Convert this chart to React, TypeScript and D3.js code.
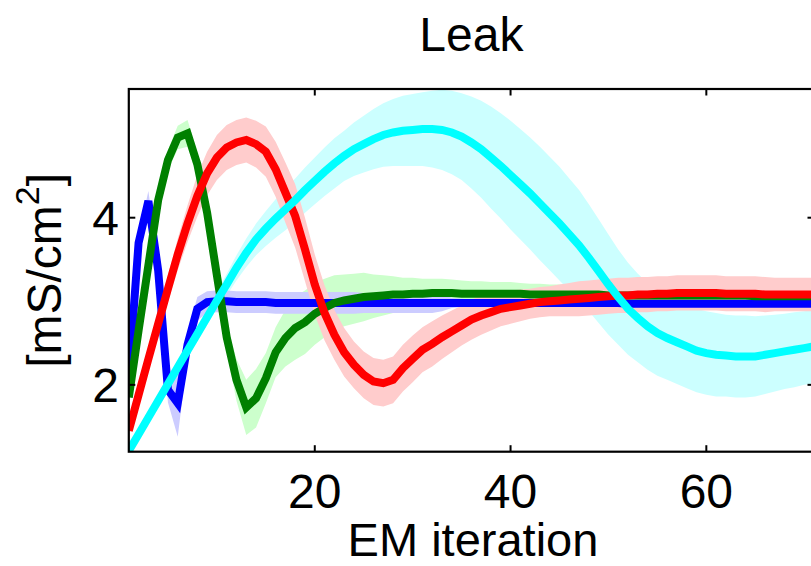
import React from 'react';
import * as d3 from 'd3';

const ITER = d3.range(1, 72);

const blueMean = [
  2.1, 3.7, 4.2, 3.37, 1.94, 1.78, 2.48, 2.91, 2.99, 3.0,
  3.0, 2.99, 2.99, 2.99, 2.99, 2.98, 2.98, 2.98, 2.98, 2.98,
  2.98, 2.98, 2.98, 2.98, 2.98, 2.98, 2.98, 2.98, 2.98, 2.98,
  2.98, 2.98, 2.98, 2.98, 2.98, 2.98, 2.98, 2.98, 2.98, 2.98,
  2.98, 2.98, 2.98, 2.98, 2.98, 2.98, 2.98, 2.98, 2.98, 2.98,
  2.98, 2.97, 2.97, 2.97, 2.97, 2.97, 2.97, 2.97, 2.97, 2.97,
  2.97, 2.97, 2.97, 2.97, 2.97, 2.97, 2.97, 2.97, 2.97, 2.97, 2.97,
];
const blueSd = [
  0.04, 0.08, 0.12, 0.12, 0.15, 0.4, 0.15, 0.14, 0.13, 0.13,
  0.13, 0.13, 0.13, 0.13, 0.13, 0.13, 0.13, 0.13, 0.13, 0.13,
  0.13, 0.13, 0.13, 0.13, 0.12, 0.12, 0.12, 0.12, 0.12, 0.12,
  0.12, 0.12, 0.1, 0.06, 0.05, 0.04, 0.04, 0.04, 0.04, 0.04,
  0.04, 0.04, 0.04, 0.04, 0.04, 0.04, 0.04, 0.04, 0.04, 0.04,
  0.04, 0.04, 0.04, 0.04, 0.04, 0.04, 0.04, 0.04, 0.04, 0.04,
  0.04, 0.04, 0.04, 0.04, 0.04, 0.04, 0.04, 0.04, 0.04, 0.04, 0.04,
];

const greenMean = [
  1.85, 2.65, 3.43, 4.21, 4.69, 4.96, 5.01, 4.64, 4.06, 3.31,
  2.57, 2.06, 1.73, 1.84, 2.08, 2.39, 2.56, 2.68, 2.75, 2.85,
  2.92, 2.98, 3.01, 3.03, 3.05, 3.06, 3.07, 3.08, 3.08, 3.09,
  3.09, 3.1, 3.1, 3.1, 3.09, 3.09, 3.09, 3.09, 3.09, 3.09,
  3.09, 3.08, 3.08, 3.08, 3.08, 3.08, 3.08, 3.08, 3.08, 3.07,
  3.07, 3.07, 3.07, 3.07, 3.07, 3.07, 3.07, 3.07, 3.07, 3.07,
  3.07, 3.07, 3.07, 3.07, 3.06, 3.06, 3.06, 3.06, 3.06, 3.06, 3.06,
];
const greenSd = [
  0.04, 0.06, 0.08, 0.1, 0.12, 0.14, 0.16, 0.14, 0.12, 0.12,
  0.16, 0.25, 0.33, 0.35, 0.3, 0.3, 0.34, 0.38, 0.38, 0.37,
  0.35, 0.33, 0.31, 0.3, 0.29, 0.26, 0.24, 0.22, 0.2, 0.19,
  0.18, 0.17, 0.17, 0.16, 0.16, 0.15, 0.15, 0.14, 0.14, 0.14,
  0.13, 0.13, 0.13, 0.12, 0.12, 0.12, 0.12, 0.12, 0.12, 0.11,
  0.11, 0.11, 0.11, 0.11, 0.11, 0.11, 0.11, 0.11, 0.11, 0.11,
  0.1, 0.1, 0.1, 0.1, 0.1, 0.1, 0.1, 0.1, 0.1, 0.1, 0.1,
];

const redMean = [
  1.45, 1.88, 2.31, 2.73, 3.15, 3.56, 3.93, 4.26, 4.53, 4.72,
  4.84, 4.9, 4.93, 4.88, 4.79, 4.58, 4.3, 4.02, 3.62, 3.2,
  2.86, 2.6, 2.39, 2.24, 2.12, 2.04, 2.02, 2.06, 2.2, 2.31,
  2.42, 2.49, 2.57, 2.64, 2.71, 2.78, 2.83, 2.87, 2.91, 2.93,
  2.95, 2.97, 2.99, 3.0, 3.01, 3.02, 3.03, 3.04, 3.05, 3.06,
  3.07, 3.07, 3.08, 3.08, 3.09, 3.09, 3.1, 3.1, 3.1, 3.1,
  3.1, 3.09, 3.09, 3.09, 3.09, 3.08, 3.08, 3.08, 3.08, 3.08, 3.08,
];
const redSd = [
  0.04, 0.07, 0.1, 0.13, 0.16, 0.19, 0.22, 0.25, 0.26, 0.27,
  0.27, 0.27, 0.27, 0.28, 0.3, 0.33, 0.36, 0.38, 0.38, 0.36,
  0.33, 0.3, 0.29, 0.28, 0.28, 0.28, 0.28, 0.28, 0.28, 0.28,
  0.27, 0.27, 0.26, 0.25, 0.24, 0.24, 0.23, 0.22, 0.21, 0.2,
  0.19, 0.18, 0.18, 0.18, 0.19, 0.2, 0.21, 0.21, 0.21, 0.21,
  0.21, 0.21, 0.21, 0.21, 0.21, 0.21, 0.21, 0.21, 0.21, 0.21,
  0.21, 0.21, 0.21, 0.21, 0.21, 0.21, 0.2, 0.2, 0.2, 0.2, 0.2,
];

const cyanMean = [
  1.21, 1.41, 1.61, 1.81, 2.01, 2.21, 2.41, 2.61, 2.81, 3.01,
  3.2, 3.4, 3.58, 3.74, 3.87, 3.99, 4.1, 4.21, 4.33, 4.44,
  4.55, 4.65, 4.74, 4.82, 4.88, 4.94, 4.99, 5.02, 5.04, 5.05,
  5.06, 5.06, 5.05, 5.02, 4.97, 4.9, 4.82, 4.72, 4.62, 4.51,
  4.4, 4.29, 4.17, 4.05, 3.93, 3.8, 3.67, 3.52, 3.36, 3.2,
  3.05, 2.91, 2.8, 2.7, 2.62, 2.56, 2.51, 2.46, 2.41, 2.38,
  2.36, 2.35, 2.34, 2.34, 2.34, 2.36, 2.38, 2.4, 2.42, 2.44, 2.46,
];
const cyanSd = [
  0.02, 0.03, 0.04, 0.05, 0.06, 0.07, 0.08, 0.08, 0.09, 0.1,
  0.13, 0.15, 0.17, 0.19, 0.21, 0.23, 0.25, 0.26, 0.27, 0.28,
  0.29, 0.3, 0.3, 0.32, 0.34, 0.36, 0.38, 0.4, 0.42, 0.43,
  0.44, 0.46, 0.48, 0.5, 0.52, 0.55, 0.58, 0.61, 0.63, 0.65,
  0.66, 0.67, 0.68, 0.68, 0.68, 0.67, 0.66, 0.64, 0.62, 0.6,
  0.57, 0.55, 0.53, 0.52, 0.51, 0.5, 0.5, 0.5, 0.5, 0.5,
  0.5, 0.49, 0.49, 0.49, 0.48, 0.47, 0.46, 0.45, 0.45, 0.44, 0.44,
];

const X_TICKS = [20, 40, 60];
const Y_TICKS = [2, 4];
const TITLE = 'Leak';
const X_LABEL = 'EM iteration';

const SERIES = [
  { name: 'blue', mean: blueMean, sd: blueSd, line: '#0000ff', band: '#ccccff' },
  { name: 'green', mean: greenMean, sd: greenSd, line: '#008000', band: '#ccffcc' },
  { name: 'red', mean: redMean, sd: redSd, line: '#ff0000', band: '#ffcccc' },
  { name: 'cyan', mean: cyanMean, sd: cyanSd, line: '#00ffff', band: '#ccffff' },
];
const BAND_ORDER = ['cyan', 'green', 'blue', 'red'];
const LINE_ORDER = ['blue', 'green', 'red', 'cyan'];

const W = 811;
const H = 566;
const L = 128.8;
const R = 814;
const T = 89;
const B = 451.7;
const FONT = '"Liberation Sans", Arial, Helvetica, sans-serif';

export default function App() {
  const x = d3.scaleLinear().domain([1, 71]).range([L, R]);
  const y = d3.scaleLinear().domain([1.2, 5.54]).range([B, T]);

  const idx = ITER.map((_, i) => i);
  const area = (s: any) =>
    d3
      .area<number>()
      .x((i) => x(ITER[i]))
      .y0((i) => y(s.mean[i] - s.sd[i]))
      .y1((i) => y(s.mean[i] + s.sd[i]))(idx) || '';
  const line = (s: any) =>
    d3
      .line<number>()
      .x((i) => x(ITER[i]))
      .y((i) => y(s.mean[i]))(idx) || '';

  const byName = (n: string) => SERIES.find((s) => s.name === n)!;
  const tick = 6.5;

  return (
    <svg
      width={W}
      height={H}
      style={{ position: 'absolute', left: 0, top: 0, background: '#fff' }}
      fontFamily={FONT}
    >
      <defs>
        <clipPath id="plotClip">
          <rect x={L} y={T} width={R - L} height={B - T} />
        </clipPath>
      </defs>
      <rect x={0} y={0} width={W} height={H} fill="#fff" />
      <g clipPath="url(#plotClip)">
        {BAND_ORDER.map((n) => (
          <path key={'b' + n} d={area(byName(n))} fill={byName(n).band} stroke="none" />
        ))}
        {LINE_ORDER.map((n) => (
          <path
            key={'l' + n}
            d={line(byName(n))}
            fill="none"
            stroke={byName(n).line}
            strokeWidth={8}
            strokeLinejoin="miter"
          />
        ))}
      </g>
      <rect x={L} y={T} width={R - L} height={B - T} fill="none" stroke="#000" strokeWidth={2.2} />
      {X_TICKS.map((t) => (
        <g key={'xt' + t}>
          <line x1={x(t)} x2={x(t)} y1={B} y2={B - tick} stroke="#000" strokeWidth={2} />
          <line x1={x(t)} x2={x(t)} y1={T} y2={T + tick} stroke="#000" strokeWidth={2} />
          <text x={x(t)} y={508} textAnchor="middle" fontSize={48} fill="#000">
            {t}
          </text>
        </g>
      ))}
      {Y_TICKS.map((t) => (
        <g key={'yt' + t}>
          <line x1={L} x2={L + tick} y1={y(t)} y2={y(t)} stroke="#000" strokeWidth={2} />
          <line x1={R} x2={R - tick} y1={y(t)} y2={y(t)} stroke="#000" strokeWidth={2} />
          <text x={119} y={y(t) + 17} textAnchor="end" fontSize={48} fill="#000">
            {t}
          </text>
        </g>
      ))}
      <text x={(L + R) / 2} y={51} textAnchor="middle" fontSize={48} fill="#000">
        {TITLE}
      </text>
      <text x={473} y={556} textAnchor="middle" fontSize={47} fill="#000">
        {X_LABEL}
      </text>
      <text
        transform={`translate(61, ${(T + B) / 2}) rotate(-90)`}
        textAnchor="middle"
        fontSize={48}
        fill="#000"
      >
        [mS/cm
        <tspan fontSize={34} dy={-22}>
          2
        </tspan>
        <tspan dy={22}>]</tspan>
      </text>
    </svg>
  );
}
